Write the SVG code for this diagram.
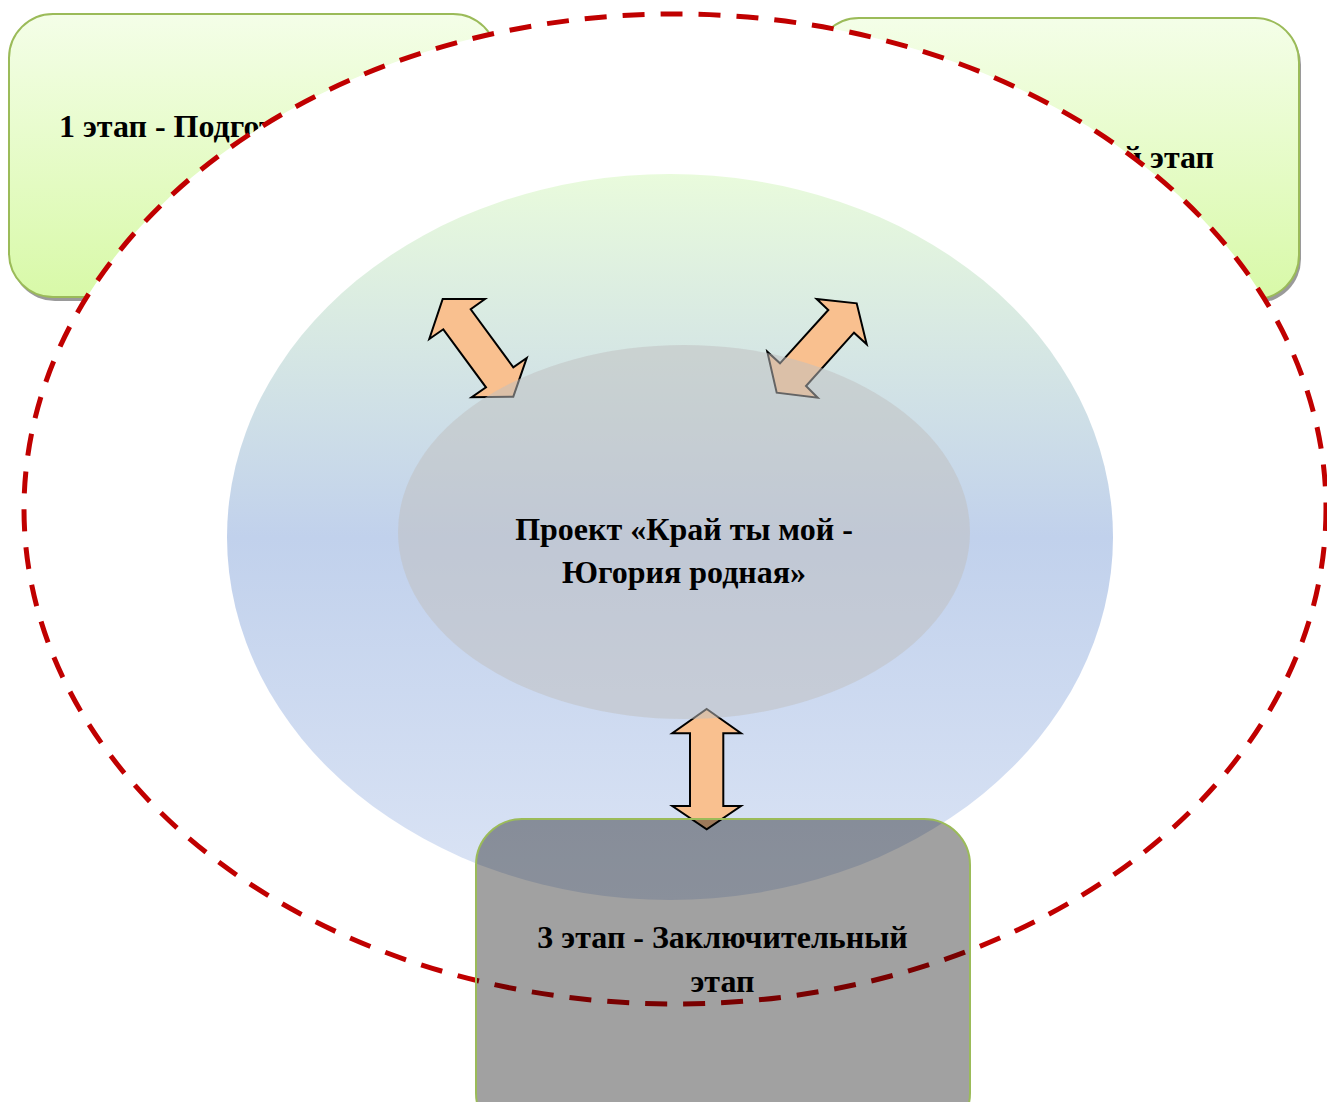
<svg xmlns="http://www.w3.org/2000/svg" width="1327" height="1102" viewBox="0 0 1327 1102">
<style>
.t{font-family:"Liberation Serif","Times New Roman",serif;font-weight:bold;font-size:32px;fill:#000}
.box{fill:url(#gGreen);stroke:#9bbb59;stroke-width:2}
.shadow{fill:#9a9a9a}
.arrow{fill:#f9c08f;stroke:#000;stroke-width:2;stroke-linejoin:miter}
</style>
<defs>
<linearGradient id="gGreen" x1="0" y1="0" x2="0" y2="1">
<stop offset="0" stop-color="#f4fee8"/>
<stop offset="1" stop-color="#d8f9a8"/>
</linearGradient>
<linearGradient id="gBig" x1="0" y1="0" x2="0" y2="1">
<stop offset="0" stop-color="#e9fbdc"/>
<stop offset="0.5" stop-color="#c1d1ec"/>
<stop offset="1" stop-color="#dbe4f5"/>
</linearGradient>
</defs>
<rect width="1327" height="1102" fill="#fff"/>
<g id="stage1">
<rect class="shadow" x="11" y="17" width="488" height="284" rx="44"/>
<rect class="box" x="9" y="14" width="488" height="283" rx="44"/>
<text class="t" x="59" y="137">1 этап - Подгот</text>
</g>
<g id="stage2">
<rect class="shadow" x="817" y="21" width="484" height="282" rx="44"/>
<rect class="box" x="815" y="18" width="484" height="281" rx="44"/>
<text class="t" x="1214" y="168" text-anchor="end">й этап</text>
</g>
<ellipse id="outer-fill" cx="675" cy="509" rx="651" ry="495" fill="#fff"/>
<g id="circle">
<ellipse cx="670" cy="537" rx="443" ry="363" fill="url(#gBig)"/>
</g>
<g id="connectors">
<polygon class="arrow" points="442.7,299 485,299 470.7,309.3 513.3,367.3 526.7,358 513.3,396.7 471.7,397.3 486,387.3 443.3,329.3 429.3,339"/>
<polygon class="arrow" points="816.7,299 856.7,303.3 866.7,344.3 854,332.7 806,386 817.7,397.7 776.7,392.7 767.3,351.7 780,363.3 828.3,310"/>
<polygon class="arrow" points="706.7,709 741,733.3 723.3,733.3 723.3,806 741,806 706.7,829.3 672.3,806 690,806 690,733.3 672.3,733.3"/>
</g>
<g id="center">
<ellipse cx="684" cy="532" rx="286" ry="187" fill="#c0c0c0" fill-opacity="0.52"/>
<text class="t" x="684" y="540" text-anchor="middle">Проект «Край ты мой -</text>
<text class="t" x="684" y="583" text-anchor="middle">Югория родная»</text>
</g>
<ellipse id="outer-line" cx="675" cy="509" rx="651" ry="495" fill="none" stroke="#c00000" stroke-width="5" stroke-dasharray="22 16"/>
<g id="stage3">
<rect x="476" y="819" width="494" height="320" rx="46" fill="#000" fill-opacity="0.37" stroke="#9bbb59" stroke-width="2"/>
<text class="t" x="722.5" y="948" text-anchor="middle">3 этап - Заключительный</text>
<text class="t" x="722.5" y="992" text-anchor="middle">этап</text>
</g>
</svg>
